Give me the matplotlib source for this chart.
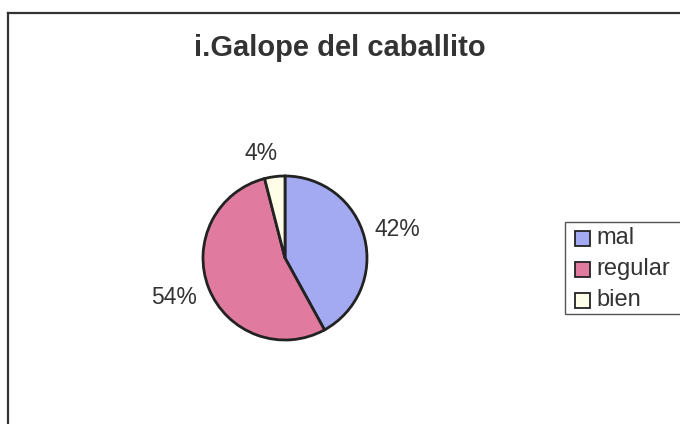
import matplotlib.pyplot as plt
from matplotlib.patches import Rectangle
from matplotlib.lines import Line2D

plt.rcParams['font.family'] = ['Liberation Sans', 'DejaVu Sans']

title = "i.Galope del caballito"
categories = ['mal', 'regular', 'bien']
values = [42, 54, 4]
colors = ['#a3aaf2', '#e07a9f', '#fdfde8']

W, H = 680, 424
fig = plt.figure(figsize=(W / 100, H / 100), dpi=100)

def fx(px):
    return px / W

def fy(py):
    return 1 - py / H

# outer chart frame (runs off the right and bottom edges)
fig.add_artist(Line2D([fx(8), fx(8)], [0, fy(13)], color='#333333', lw=1.6,
                      transform=fig.transFigure))
fig.add_artist(Line2D([fx(8), 1], [fy(13), fy(13)], color='#333333', lw=1.6,
                      transform=fig.transFigure))

fig.text(fx(340), fy(48), title, ha='center', va='center',
         fontsize=21, fontweight='bold', color='#333333')

# pie centred at (285, 258) px with radius ~82 px
cx, cy, r = 285, 258, 82
ax = fig.add_axes([fx(cx - r), fy(cy + r), 2 * r / W, 2 * r / H])
wedges, _ = ax.pie(values, colors=colors, startangle=90, counterclock=False,
                   wedgeprops=dict(edgecolor='#222222', linewidth=2))
ax.set_aspect('auto')
ax.set_xlim(-1, 1)
ax.set_ylim(-1, 1)

label_pos = [(397, 229), (174, 298), (261, 154)]
for v, (x, y) in zip(values, label_pos):
    fig.text(fx(x), fy(y), f"{v}%", ha='center', va='center',
             fontsize=16.5, color='#333333')

# legend box, drawn by hand so it can run past the right edge
fig.add_artist(Rectangle((fx(565), fy(314)), 130 / W, 92 / H, fill=False,
                         edgecolor='#555555', lw=1.0, transform=fig.transFigure))
row_y = [238, 269, 300]
for cat, c, y in zip(categories, colors, row_y):
    fig.add_artist(Rectangle((fx(575), fy(y + 7.5)), 15 / W, 15 / H,
                             facecolor=c, edgecolor='#222222', lw=1.3,
                             transform=fig.transFigure))
    fig.text(fx(596), fy(y), cat, ha='left', va='center',
             fontsize=17, color='#333333')

fig.savefig('out.png', dpi=100, facecolor='white')
